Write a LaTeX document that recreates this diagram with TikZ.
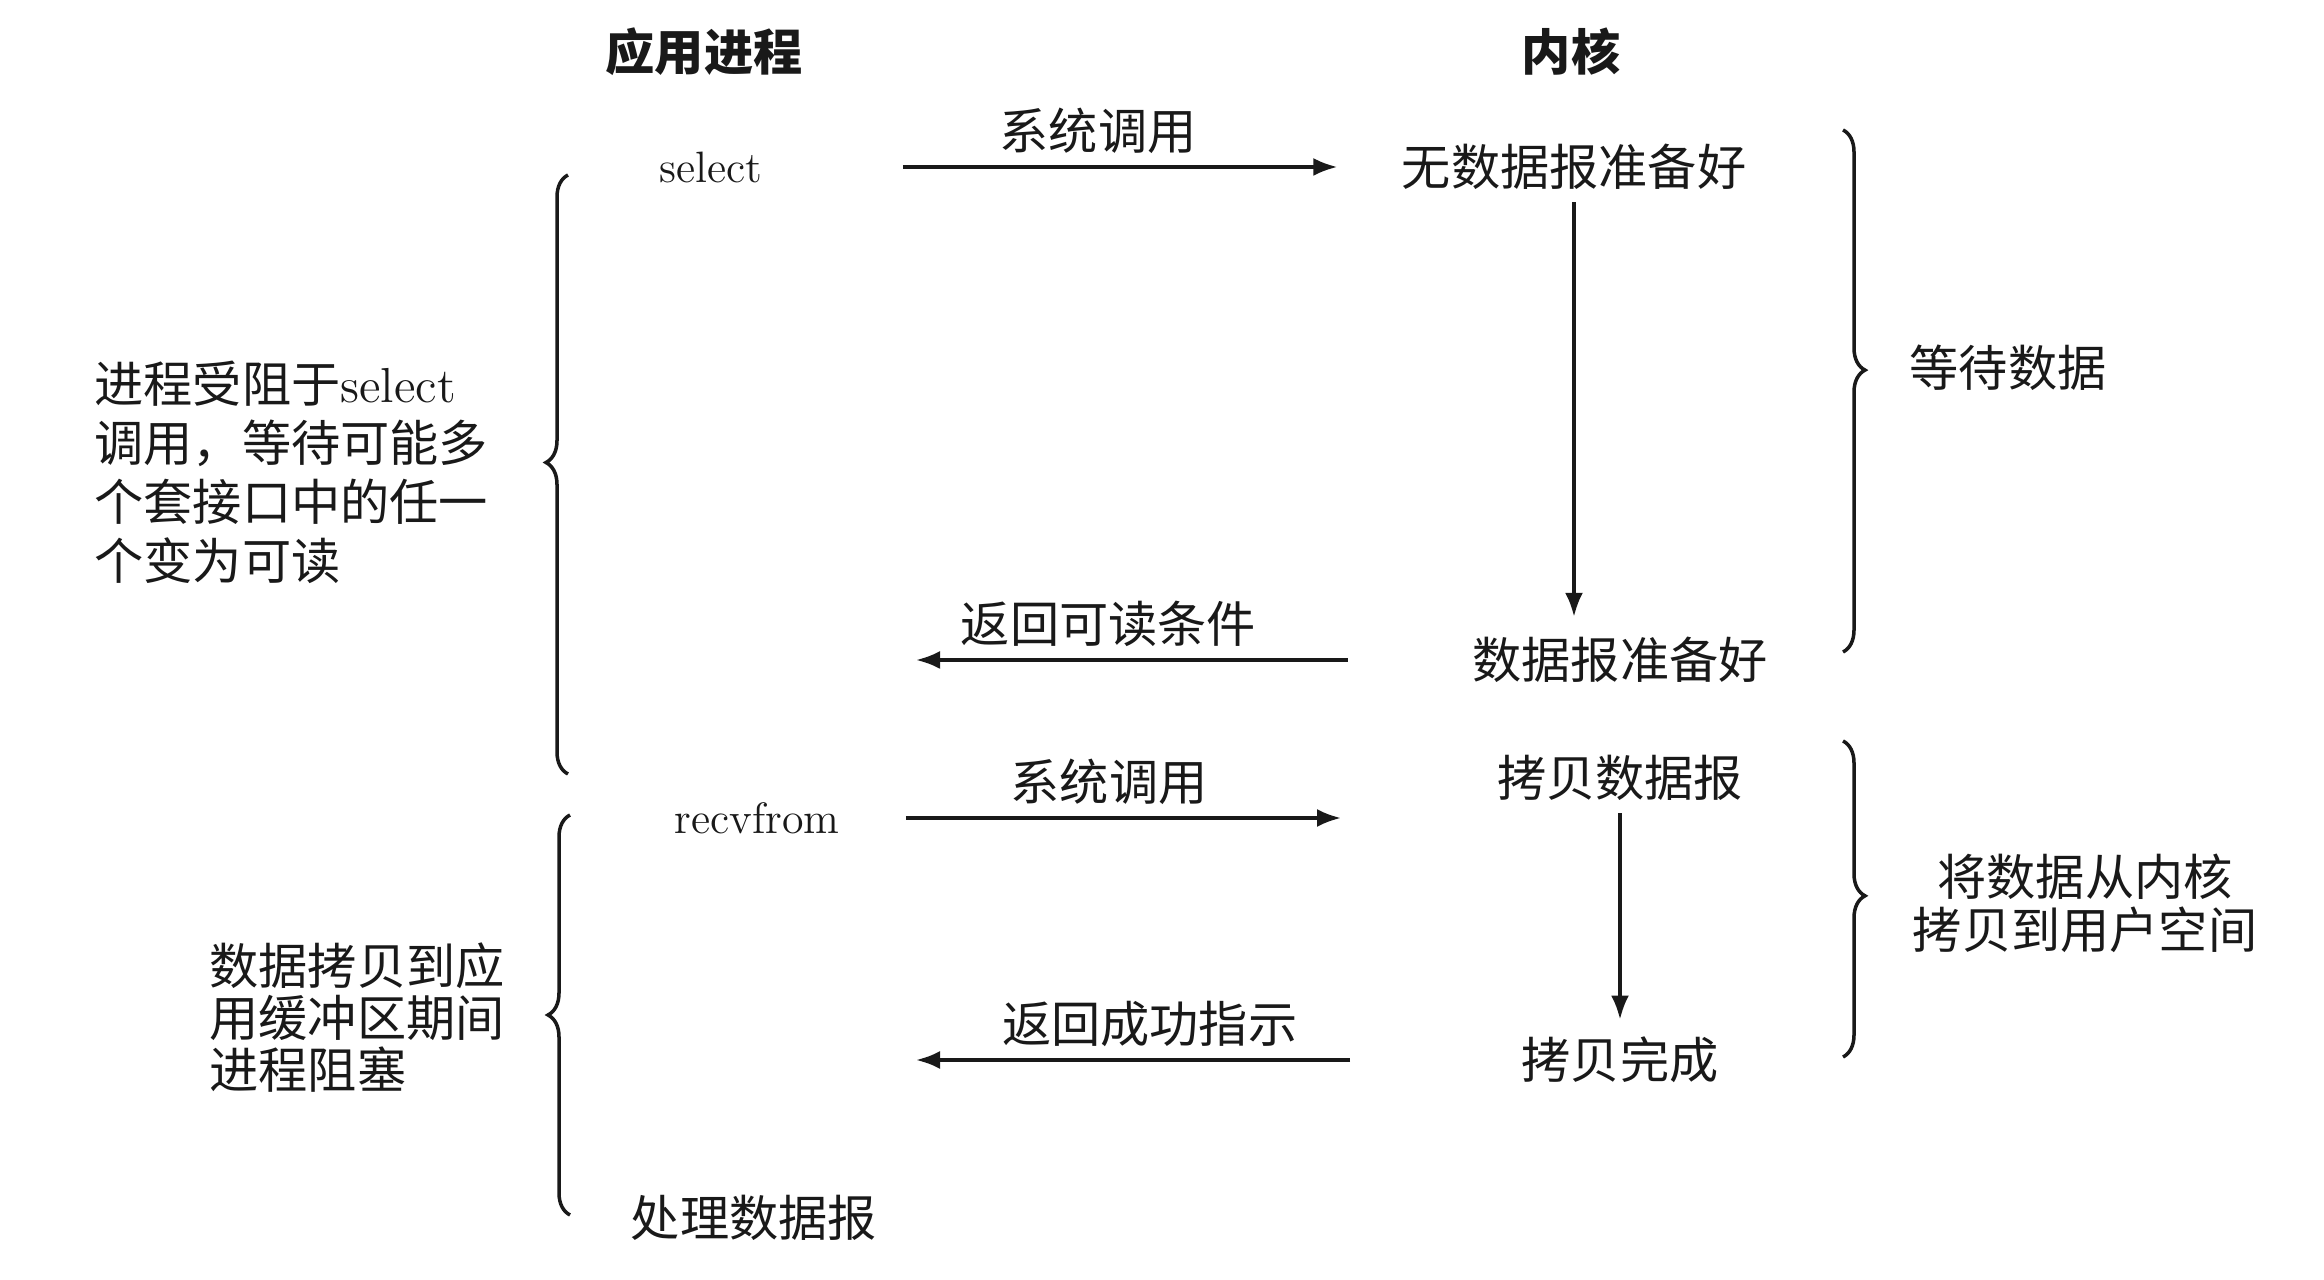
\documentclass[tikz,border=0pt]{standalone}
\usepackage{fontspec}
\newfontfamily\cjk{Noto Sans CJK SC}
\usepackage{tikz}
\usetikzlibrary{arrows.meta, positioning, decorations.pathreplacing}
\definecolor{inkblack}{RGB}{25, 25, 25}

\tikzset{
  zh/.style={font=\cjk\fontsize{14pt}{16.8pt}\selectfont, text=inkblack},
  en/.style={font=\rmfamily\fontsize{12.5pt}{15pt}\selectfont, text=inkblack},
  head/.style={font=\cjk\bfseries\fontsize{14pt}{16.8pt}\selectfont, text=inkblack},
  arr/.style={draw=inkblack, line width=1pt, -{Latex[length=2.4mm, width=1.8mm]}},
  brc/.style={draw=inkblack, line width=1pt, decorate, decoration={brace, amplitude=2.2mm, #1}},
  brc/.default={aspect=0.5},
}

\begin{document}
\begin{tikzpicture}
  \useasboundingbox (0,0) rectangle (23.24,-12.8);

  % column heads
  \node[head] (app) at (7.04,-0.52) {应用进程};
  \node[head] (kern) at (15.71,-0.52) {内核};

  % first call: select
  \node[en] (select) at (7.11,-1.67) {select};
  \node[zh] (nodata) at (15.74,-1.67) {无数据报准备好};
  \node[zh] (ready) at (16.20,-6.60) {数据报准备好};
  \coordinate (ret1) at (9.16,-6.60);

  \draw[arr, shorten <=1.28cm, shorten >=0.52cm] (select.east) -- node[zh, above, pos=0.526] (call1) {系统调用} (nodata.west);
  \draw[arr, shorten >=0.08cm] (nodata.south) -- (nodata.south |- ready.north);
  \draw[arr, shorten <=1.12cm] (ready.west) -- node[zh, above, pos=0.646] (back1) {返回可读条件} (ret1);

  % second call: recvfrom
  \node[en] (recv) at (7.57,-8.18) {recvfrom};
  \node[zh] (copy) at (16.20,-7.78) {拷贝数据报};
  \node[zh] (done) at (16.20,-10.60) {拷贝完成};
  \node[zh] (handle) at (7.54,-12.18) {处理数据报};
  \coordinate (call2end) at (13.41,-8.18);
  \coordinate (ret2) at (9.16,-10.60);

  \draw[arr, shorten <=0.54cm] (recv.east) -- node[zh, above, pos=0.526] (call2) {系统调用} (call2end);
  \draw[arr, shorten >=0.05cm] (copy.south) -- (done.north);
  \draw[arr, shorten <=1.59cm] (done.west) -- node[zh, above, pos=0.606] (back2) {返回成功指示} (ret2);

  % braces and side notes
  \draw[brc={aspect=0.52}] (5.68,-7.74) -- (5.68,-1.75);
  \draw[brc] (5.70,-12.15) -- (5.70,-8.15);
  \draw[brc={aspect=0.46}] (18.43,-1.30) -- (18.43,-6.52);
  \draw[brc={aspect=0.49}] (18.43,-7.41) -- (18.43,-10.57);

  \node[zh, anchor=west, align=left] (selnote) at (0.82,-4.72)
    {进程受阻于{\rmfamily select}\\调用，等待可能多\\个套接口中的任一\\个变为可读};
  \node[zh, anchor=west, align=left, font=\cjk\fontsize{14pt}{14.8pt}\selectfont] (copynote) at (1.97,-10.18)
    {数据拷贝到应\\用缓冲区期间\\进程阻塞};
  \node[zh] (waitnote) at (20.08,-3.68) {等待数据};
  \node[zh, align=center, font=\cjk\fontsize{14pt}{15pt}\selectfont] (kcopynote) at (20.85,-9.03)
    {将数据从内核\\拷贝到用户空间};
\end{tikzpicture}
\end{document}
